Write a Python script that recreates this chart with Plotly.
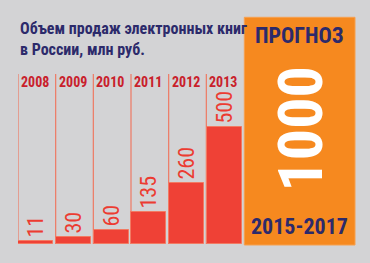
import plotly.graph_objects as go

# E-book sales in Russia, million rubles
years = ["2008", "2009", "2010", "2011", "2012", "2013"]
sales = [11, 30, 60, 135, 260, 500]

title_lines = ["Объем продаж электронных книг", "в России, млн руб."]
forecast_label = "ПРОГНОЗ"
forecast_value = 1000
forecast_period = "2015-2017"

BG = "#d3d3d5"
BAR = "#ef4136"
BAR_EDGE = "#f27a63"
COL_LINE = "#ee7a64"
YEAR_RED = "#c9202b"
LABEL_RED = "#ec3b31"
NAVY = "#2c2a6b"
ORANGE = "#f6891f"
FONT = "Roboto Condensed"

W, H = 370, 263
ML, MR, MT, MB = 18, 126, 74, 19
PW, PH = W - ML - MR, H - MT - MB


def px_x(px):
    return (px - ML) / PW


def px_y(py):
    return (H - MB - py) / PH


idx = list(range(len(years)))

fig = go.Figure()
fig.add_trace(go.Bar(
    x=idx,
    y=sales,
    width=0.93,
    offset=-0.49,
    marker=dict(color=BAR, line=dict(color=BAR_EDGE, width=1)),
    text=[str(v) for v in sales],
    textposition="outside",
    textangle=-90,
    constraintext="none",
    cliponaxis=False,
    outsidetextfont=dict(family=FONT, size=22, color=LABEL_RED),
    hoverinfo="skip",
))

shapes = []
annotations = []

# column divider lines, one at the left edge of each year
for i in idx:
    shapes.append(dict(
        type="line", xref="x", yref="paper",
        x0=i - 0.5, x1=i - 0.5, y0=0, y1=1,
        line=dict(color=COL_LINE, width=1.2), layer="below",
    ))
    annotations.append(dict(
        xref="x", yref="paper", x=i - 0.5, y=1,
        xanchor="left", yanchor="top", xshift=1, yshift=2,
        text=years[i], showarrow=False,
        font=dict(family=FONT, size=14, color=YEAR_RED, weight="bold"),
    ))

# forecast panel
shapes.append(dict(
    type="rect", xref="paper", yref="paper",
    x0=px_x(244.3), x1=px_x(355), y0=px_y(245), y1=px_y(17.3),
    fillcolor=ORANGE, line=dict(color="#f7a04f", width=1), layer="below",
))

annotations.append(dict(
    xref="paper", yref="paper", x=px_x(18), y=px_y(17),
    xanchor="left", yanchor="top", align="left",
    text="<br>".join(title_lines), showarrow=False,
    font=dict(family=FONT, size=16, color=NAVY, weight="bold"),
))
annotations.append(dict(
    xref="paper", yref="paper", x=px_x(299.5), y=px_y(36),
    xanchor="center", yanchor="middle",
    text=forecast_label, showarrow=False,
    font=dict(family=FONT, size=22, color=NAVY, weight="bold"),
))
annotations.append(dict(
    xref="paper", yref="paper", x=px_x(299.5), y=px_y(129),
    xanchor="center", yanchor="middle", textangle=-90,
    text=str(forecast_value), showarrow=False,
    font=dict(family=FONT, size=62, color="white", weight="bold"),
))
annotations.append(dict(
    xref="paper", yref="paper", x=px_x(299.5), y=px_y(226),
    xanchor="center", yanchor="middle",
    text=forecast_period, showarrow=False,
    font=dict(family=FONT, size=22, color=NAVY, weight="bold"),
))

fig.update_layout(
    width=W, height=H,
    margin=dict(l=ML, r=MR, t=MT, b=MB),
    paper_bgcolor=BG, plot_bgcolor=BG,
    showlegend=False,
    bargap=0,
    xaxis=dict(range=[-0.5, 5.5], visible=False, fixedrange=True),
    yaxis=dict(range=[0, 728], visible=False, fixedrange=True),
    shapes=shapes,
    annotations=annotations,
)

fig.write_html("out.html", config={"displayModeBar": False})
